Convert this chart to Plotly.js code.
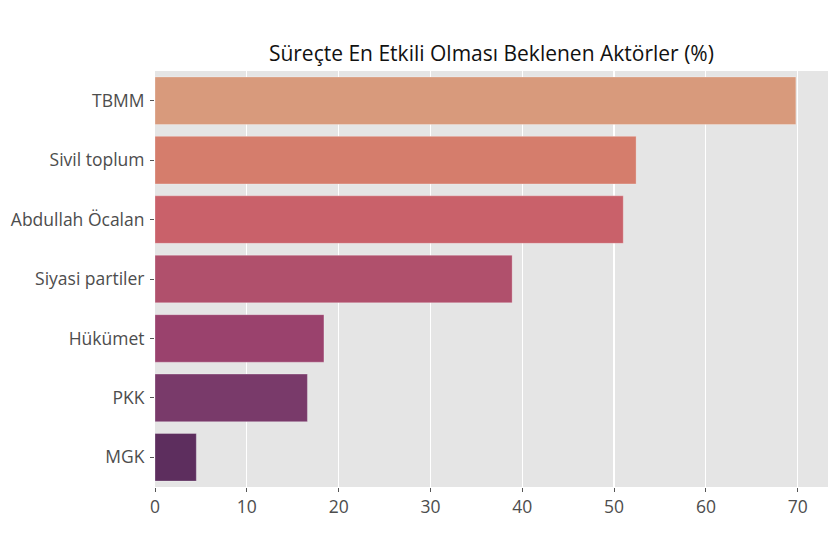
<!DOCTYPE html>
<html>
<head>
<meta charset="utf-8">
<script src="https://cdn.plot.ly/plotly-3.0.1.min.js"></script>
<style>html,body{margin:0;padding:0;background:#fff;}#chart{width:840px;height:560px;}</style>
</head>
<body>
<div id="chart"></div>
<script>
var categories = ["TBMM", "Sivil toplum", "Abdullah Öcalan", "Siyasi partiler", "Hükümet", "PKK", "MGK"];
var values = [69.8, 52.4, 51.0, 38.9, 18.4, 16.6, 4.5];
var barColors = ["#D89A7C", "#D57D6C", "#C9616A", "#B0506C", "#9A426D", "#793A6A", "#5D2E5E"];
var xTicks = [0, 10, 20, 30, 40, 50, 60, 70];
var titleText = "Süreçte En Etkili Olması Beklenen Aktörler (%)";

var FONT = "'Open Sans', sans-serif";

var trace = {
  type: "bar",
  orientation: "h",
  x: values,
  y: categories,
  marker: {color: barColors, line: {color: "rgba(255,255,255,0.35)", width: 0.8}},
  hoverinfo: "x+y"
};

var layout = {
  width: 840,
  height: 560,
  margin: {l: 155, r: 12, t: 71, b: 73},
  paper_bgcolor: "#ffffff",
  plot_bgcolor: "#E5E5E5",
  bargap: 0.2,
  showlegend: false,
  title: {
    text: titleText,
    font: {family: FONT, size: 21, color: "#111111"},
    x: 0.585, xanchor: "center",
    y: 0.905, yanchor: "middle"
  },
  xaxis: {
    range: [0, 73.3],
    tickvals: xTicks,
    ticktext: xTicks.map(String),
    showgrid: true,
    gridcolor: "#ffffff",
    gridwidth: 1.2,
    zeroline: false,
    showline: false,
    ticks: "outside",
    ticklen: 4,
    tickwidth: 1,
    tickcolor: "#555555",
    tickfont: {family: FONT, size: 17.5, color: "#4d4d4d"},
    fixedrange: true
  },
  yaxis: {
    type: "category",
    categoryorder: "array",
    categoryarray: categories,
    range: [6.5, -0.5],
    showgrid: false,
    zeroline: false,
    showline: false,
    ticks: "outside",
    ticklen: 4,
    tickwidth: 1,
    tickcolor: "#555555",
    ticklabelstandoff: 2,
    tickfont: {family: FONT, size: 17.5, color: "#4d4d4d"},
    fixedrange: true
  }
};

Plotly.newPlot("chart", [trace], layout, {displayModeBar: false, staticPlot: true});
</script>
</body>
</html>
